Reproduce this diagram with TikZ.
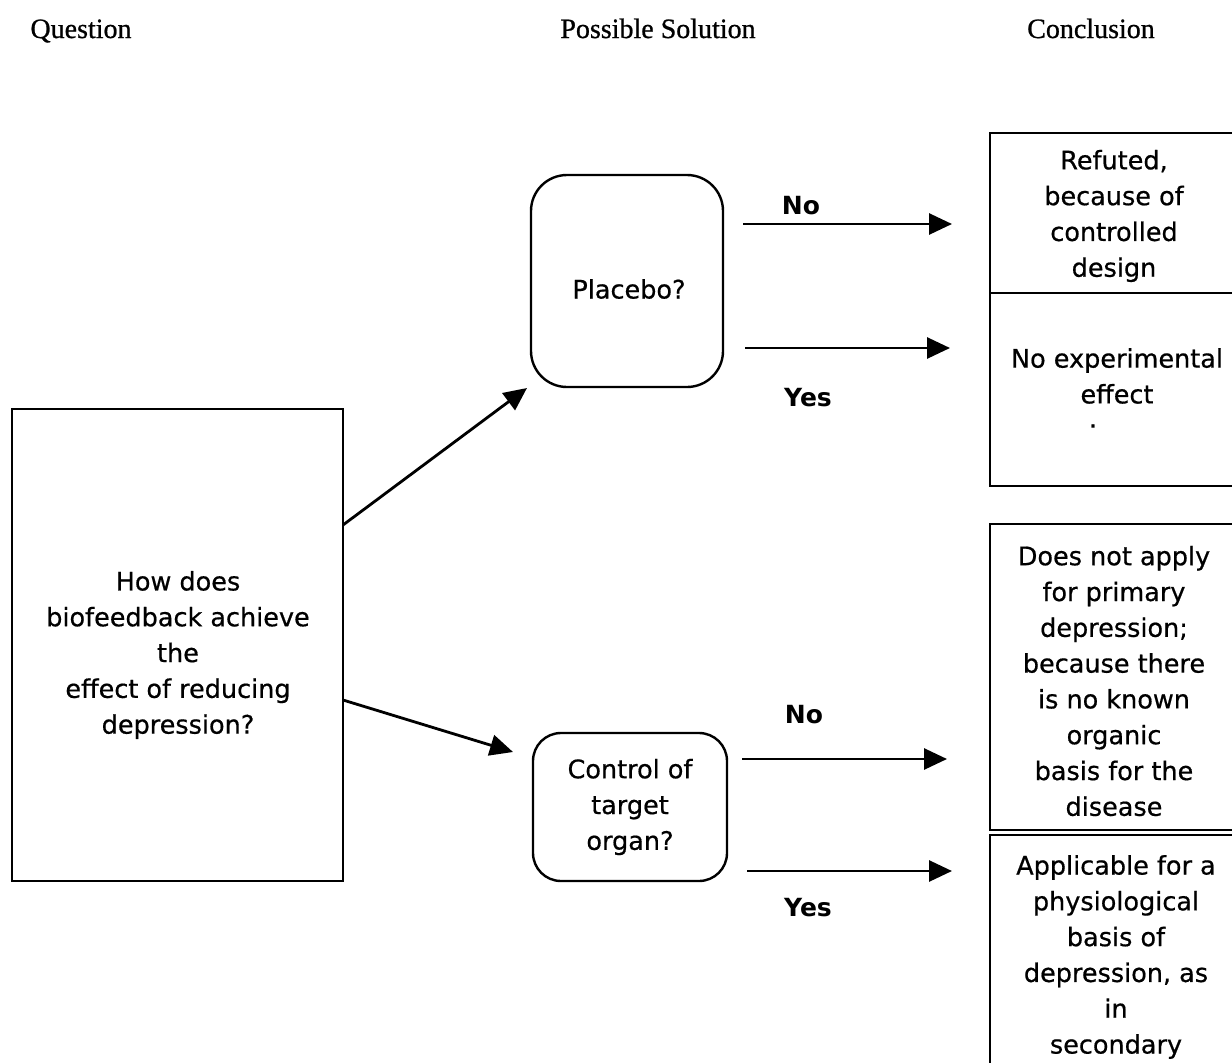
\documentclass[tikz,border=0pt]{standalone}
\usepackage{fontspec}
\setmainfont{DejaVu Sans}[UprightFeatures={FakeBold=0.6}]
\newfontfamily\hdrfont{Liberation Serif}[FakeBold=0.8]
\usetikzlibrary{arrows.meta,calc}
\begin{document}
\begin{tikzpicture}[x=1pt,y=-1pt,
  hdr/.style={font=\hdrfont\fontsize{28pt}{30pt}\selectfont, anchor=base, inner sep=0pt},
  body/.style={font=\fontsize{25.5pt}{35.8pt}\selectfont, align=center, inner sep=0pt},
  lbl/.style={font=\bfseries\fontsize{25pt}{30pt}\selectfont, inner sep=0pt},
  plainbox/.style={draw, line width=2.4pt, inner sep=0pt, outer sep=0pt},
  roundbox/.style={plainbox, rounded corners=36pt},
  cellbox/.style={plainbox, anchor=north west, minimum width=260pt},
  arr/.style={line width=2.8pt, -{Triangle[length=23pt,width=21pt]}}
]
\useasboundingbox (0,0) rectangle (1232,1063);

% headers
\node[hdr] (hq) at (81,38) {Question};
\node[hdr] (hs) at (658,38) {Possible Solution};
\node[hdr] (hc) at (1091,38) {Conclusion};

% question box
\node[plainbox, minimum width=331pt, minimum height=472pt] (qbox) at (177.5,645) {};
\node[body] (qtext) at (178,655) {How does\\biofeedback achieve\\the\\effect of reducing\\depression?};

% possible solutions
\node[roundbox, minimum width=192pt, minimum height=212pt] (pbox) at (627,281) {};
\node[body] (ptext) at (629,289) {Placebo?};
\node[roundbox, rounded corners=28pt, minimum width=194pt, minimum height=148pt, body] (cbox) at (630,807) {Control of\\target\\organ?};

% conclusion cells
\node[cellbox, minimum height=160pt] (c1) at (990,133) {};
\node[cellbox, minimum height=193pt] (c2) at (990,293) {};
\node[cellbox, minimum height=306pt] (c3) at (990,524) {};
\node[cellbox, minimum height=260pt] (c4) at (990,835) {};

\node[body] (t1) at (1114,216) {Refuted,\\because of\\controlled\\design};
\node[body] (t2) at (1117,376) {No experimental\\effect};
\node[body] (t2dot) at (1093,426) {.};
\node[body] (t3) at (1114,681) {Does not apply\\for primary\\depression;\\because there\\is no known\\organic\\basis for the\\disease};
\node[body] (t4) at (1116,957) {Applicable for a\\physiological\\basis of\\depression, as\\in\\secondary};

% arrows from question
\draw[arr] ($(qbox.north east)+(0,116)$) -- ($(pbox.south west)+(-4,1)$);
\draw[arr] ($(qbox.north east)+(0,291)$) -- ($(cbox.west)+(-20,-55)$);

% placebo branches
\coordinate (pn) at ($(pbox.east)+(20,-57)$);
\coordinate (py) at ($(pbox.east)+(22,67)$);
\draw[arr] (pn) -- ($(pn -| c1.west)+(-38,0)$);
\draw[arr] (py) -- ($(py -| c2.west)+(-40,0)$);
\node[lbl] (lpn) at (801,206) {No};
\node[lbl] (lpy) at (808,398) {Yes};

% control branches
\coordinate (cn) at ($(cbox.east)+(15,-48)$);
\coordinate (cy) at ($(cbox.east)+(20,64)$);
\draw[arr] (cn) -- ($(cn -| c3.west)+(-43,0)$);
\draw[arr] (cy) -- ($(cy -| c4.west)+(-38,0)$);
\node[lbl] (lcn) at (804,715) {No};
\node[lbl] (lcy) at (808,908) {Yes};
\end{tikzpicture}
\end{document}
